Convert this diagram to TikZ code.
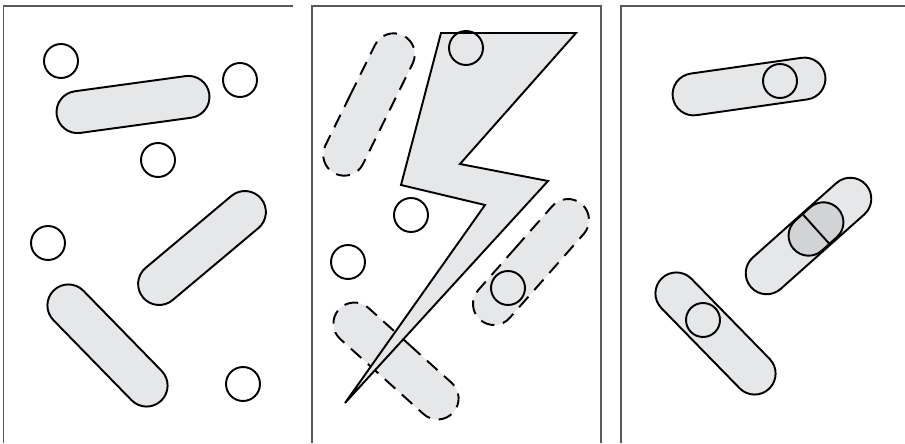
\documentclass[tikz,border=0pt]{standalone}
\usetikzlibrary{shapes.misc}

\definecolor{cellfill}{HTML}{E6E7E8}
\definecolor{cellcore}{HTML}{D1D3D4}
\definecolor{framegray}{HTML}{58595B}

\tikzset{
  cell/.style={rounded rectangle, draw, fill=cellfill, line width=1.1pt,
    minimum width=3.08cm, minimum height=0.84cm, inner sep=0pt},
  ghost/.style={cell, dash pattern=on 8pt off 5pt},
  spore/.style={circle, draw, line width=1.1pt, minimum size=0.68cm, inner sep=0pt},
  frame/.style={framegray, line width=0.8pt},
}

\begin{document}
\begin{tikzpicture}[x=0.02cm, y=0.02cm]
\useasboundingbox (0,0) rectangle (905,443);

% frames
\draw[frame] (3.5,0) -- (3.5,437) -- (293,437);
\draw[frame] (312,0) -- (312,437) -- (601,437) -- (601,0);
\draw[frame] (621,0) -- (621,437) -- (905,437);

% left panel
\node[cell, rotate=7.8]   (la) at (133,338.5) {};
\node[cell, rotate=40]    (lb) at (202,195) {};
\node[cell, rotate=-45.7] (lc) at (107.5,97.5) {};
\node[spore] (l1) at (61,382) {};
\node[spore] (l2) at (240,363) {};
\node[spore] (l3) at (158,283) {};
\node[spore] (l4) at (48,200) {};
\node[spore] (l5) at (243,59) {};

% middle panel
\node[ghost, rotate=63.7] (ma) at (369,338.5) {};
\node[ghost, rotate=48.6] (mb) at (531,181) {};
\node[ghost, rotate=-42]  (mc) at (396,82) {};
\draw[fill=cellfill, line width=1.1pt, line join=miter]
      (441,410) -- (576,410) -- (460,279) -- (548,262)
   -- (345,40) -- (485,238) -- (401,258) -- cycle;
\node[spore] (m1) at (466,395) {};
\node[spore] (m2) at (411,228) {};
\node[spore] (m3) at (348,181) {};
\node[spore] (m4) at (508,155) {};

% right panel
\node[cell, rotate=8.1]   (ra) at (749,356.5) {};
\node[cell, rotate=41.7]  (rb) at (808.5,207) {};
\node[cell, rotate=-45.7] (rc) at (715.5,109.5) {};
\node[spore] (r1) at (780,362) {};
\node[spore] (r2) at (703,123) {};
\node[cell, fill=cellcore, rotate=42, minimum width=1.2cm,
      minimum height=0.8cm] (split) at (816,214) {};
\draw[line width=1.1pt] (split.north) -- (split.south);

\end{tikzpicture}
\end{document}
